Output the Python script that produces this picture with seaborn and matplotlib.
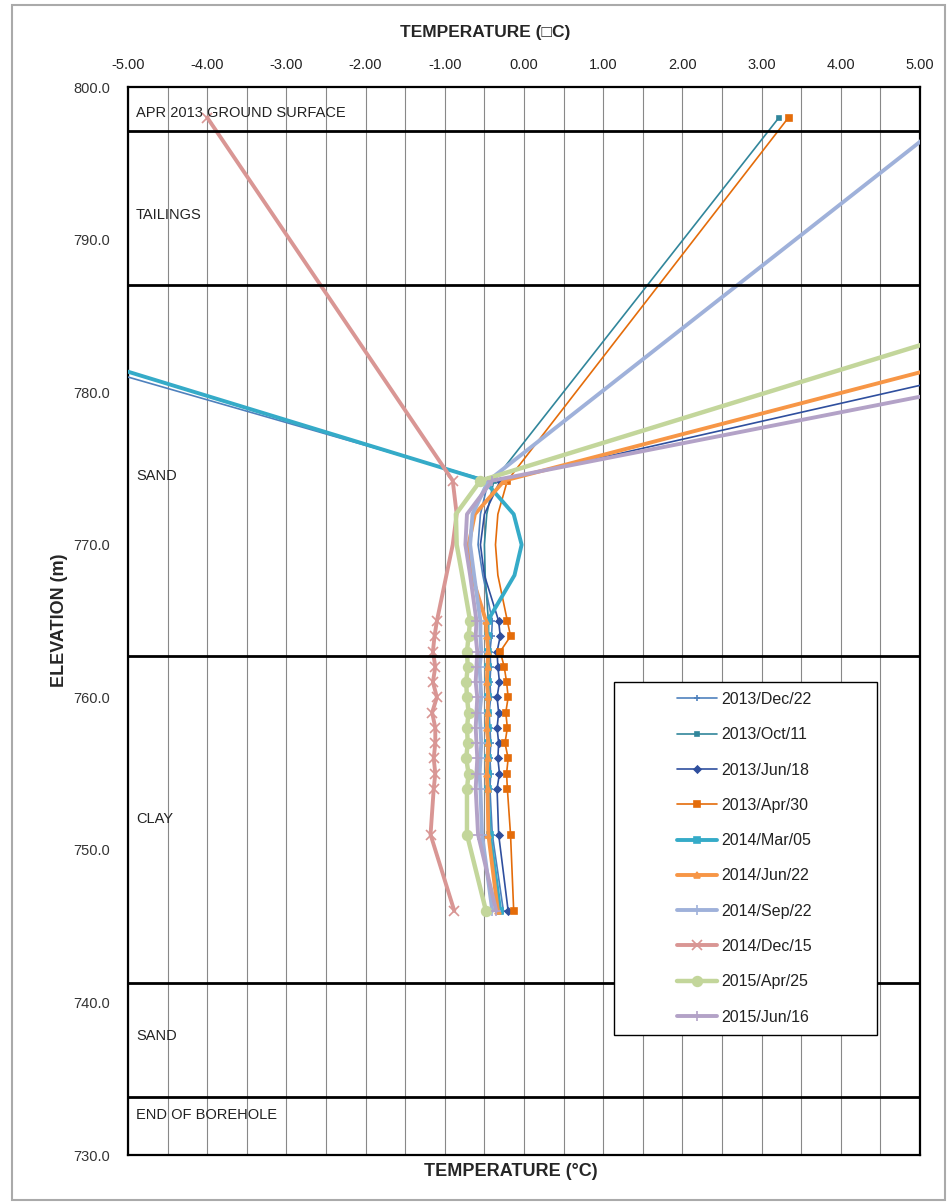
import numpy as np
import pandas as pd
import matplotlib.pyplot as plt
import matplotlib as mpl
import seaborn as sns
from matplotlib.ticker import MultipleLocator, FormatStrFormatter

sns.set_theme(style='white')
mpl.rcParams['font.family'] = ['Liberation Sans', 'DejaVu Sans']
mpl.rcParams['axes.unicode_minus'] = False

ELEV = [798.0, 774.2, 772.0, 770.0, 768.0, 765.0, 764.0, 763.0, 762.0, 761.0,
        760.0, 759.0, 758.0, 757.0, 756.0, 755.0, 754.0, 751.0, 746.0]
MARK_IDX = [0, 1] + list(range(5, len(ELEV)))

dec22_2013 = [-16.4, -0.45, -0.55, -0.58, -0.52, -0.40, -0.41, -0.43, -0.42, -0.43,
              -0.42, -0.44, -0.43, -0.42, -0.43, -0.42, -0.43, -0.40, -0.26]
oct11_2013 = [3.22, -0.38, -0.47, -0.50, -0.49, -0.45, -0.46, -0.46, -0.45, -0.46,
              -0.45, -0.46, -0.45, -0.46, -0.45, -0.46, -0.45, -0.43, -0.30]
jun18_2013 = [19.9, -0.30, -0.50, -0.55, -0.50, -0.32, -0.30, -0.34, -0.33, -0.31,
              -0.34, -0.32, -0.34, -0.32, -0.33, -0.31, -0.34, -0.32, -0.20]
apr30_2013 = [3.34, -0.21, -0.33, -0.36, -0.33, -0.21, -0.17, -0.30, -0.25, -0.22,
              -0.20, -0.23, -0.21, -0.24, -0.20, -0.22, -0.21, -0.17, -0.13]
mar05_2014 = [-15.5, -0.50, -0.13, -0.03, -0.12, -0.46, -0.46, -0.45, -0.46, -0.45,
              -0.46, -0.45, -0.46, -0.45, -0.46, -0.45, -0.46, -0.43, -0.30]
jun22_2014 = [17.35, -0.25, -0.62, -0.70, -0.66, -0.48, -0.47, -0.45, -0.46, -0.47,
              -0.45, -0.46, -0.47, -0.45, -0.46, -0.47, -0.46, -0.45, -0.33]
sep22_2014 = [5.39, -0.45, -0.65, -0.68, -0.63, -0.55, -0.55, -0.54, -0.56, -0.55,
              -0.54, -0.56, -0.55, -0.54, -0.55, -0.56, -0.55, -0.53, -0.40]
dec15_2014 = [-4.0, -0.90, -0.85, -0.90, -0.98, -1.10, -1.13, -1.15, -1.12, -1.15,
              -1.10, -1.16, -1.12, -1.12, -1.14, -1.12, -1.14, -1.18, -0.88]
apr25_2015 = [14.34, -0.55, -0.86, -0.85, -0.78, -0.68, -0.70, -0.72, -0.71, -0.73,
              -0.72, -0.70, -0.72, -0.71, -0.73, -0.70, -0.72, -0.72, -0.48]
jun16_2015 = [22.97, -0.40, -0.72, -0.74, -0.68, -0.60, -0.61, -0.59, -0.60, -0.61,
              -0.59, -0.60, -0.61, -0.60, -0.59, -0.60, -0.61, -0.58, -0.35]

LABELS = ['2013/Dec/22', '2013/Oct/11', '2013/Jun/18', '2013/Apr/30', '2014/Mar/05',
          '2014/Jun/22', '2014/Sep/22', '2014/Dec/15', '2015/Apr/25', '2015/Jun/16']
SERIES = [dec22_2013, oct11_2013, jun18_2013, apr30_2013, mar05_2014,
          jun22_2014, sep22_2014, dec15_2014, apr25_2015, jun16_2015]

# styling: colour, line width, marker, marker size
STYLES = [
    ('#4f81bd', 1.2, '+', 5),
    ('#31869b', 1.2, 's', 3),
    ('#2f4f9e', 1.2, 'D', 3.5),
    ('#e46c0a', 1.2, 's', 5),
    ('#35abc8', 2.8, 's', 5),
    ('#f79646', 2.8, '^', 5),
    ('#9fb1da', 2.8, '+', 7),
    ('#d99694', 2.8, 'x', 7),
    ('#c3d69b', 3.2, 'o', 7),
    ('#b3a2c7', 2.8, '+', 7),
]

LAYER_LINES = [797.1, 787.0, 762.7, 741.3, 733.8]
LAYER_TEXT = ['APR 2013 GROUND SURFACE', 'TAILINGS', 'SAND', 'CLAY', 'SAND', 'END OF BOREHOLE']
LAYER_TEXT_Y = [798.3, 791.6, 774.5, 752.0, 737.8, 732.6]

fig = plt.figure(figsize=(9.47, 12.04), dpi=100)
ax = fig.add_axes([128/947, 1 - 1155/1204, 792/947, 1068/1204])

for i, (temps, lab) in enumerate(zip(SERIES, LABELS)):
    c, lw, mk, ms = STYLES[i]
    df = pd.DataFrame({'temp': temps, 'elev': ELEV})
    sns.lineplot(data=df, x='temp', y='elev', sort=False, estimator=None, ax=ax,
                 color=c, linewidth=lw, marker=mk, markersize=ms, markevery=MARK_IDX,
                 markeredgecolor=c, markerfacecolor=c, markeredgewidth=1.2,
                 label=lab, zorder=3 + i)

for yl in LAYER_LINES:
    ax.axhline(yl, color='black', linewidth=2, zorder=20)

for t, yt in zip(LAYER_TEXT, LAYER_TEXT_Y):
    ax.text(-4.9, yt, t, fontsize=10.5, va='center', ha='left', color='#222222', zorder=25)

ax.set_xlim(-5, 5)
ax.set_ylim(730, 800)
ax.xaxis.tick_top()
ax.xaxis.set_major_locator(MultipleLocator(1))
ax.xaxis.set_minor_locator(MultipleLocator(0.5))
ax.xaxis.set_major_formatter(FormatStrFormatter('%.2f'))
ax.yaxis.set_major_locator(MultipleLocator(10))
ax.yaxis.set_major_formatter(FormatStrFormatter('%.1f'))
ax.tick_params(axis='x', which='both', length=0, pad=11, labelsize=10.5, colors='#222222')
ax.tick_params(axis='y', which='both', length=0, pad=13, labelsize=10.5, colors='#333333')
ax.grid(axis='x', which='both', color='#888888', linewidth=0.8)
ax.grid(axis='y', visible=False)
ax.set_axisbelow(True)
for s in ax.spines.values():
    s.set_color('black')
    s.set_linewidth(1.6)

ax.set_xlabel('')
ax.set_ylabel('')
fig.text(511/947, 1 - 1171/1204, 'TEMPERATURE (°C)', ha='center', va='center',
         fontsize=13, fontweight='bold')
fig.text(60/947, 1 - 620/1204, 'ELEVATION (m)', ha='center', va='center', rotation=90,
         fontsize=13, fontweight='bold')
fig.text(485/947, 1 - 33/1204, 'TEMPERATURE (\u25a1C)', ha='center', va='center',
         fontsize=12.5, fontweight='bold')

# legend: box drawn separately so the entries can sit inset like the original
handles, labels = ax.get_legend_handles_labels()
leg = ax.legend(handles, labels, loc='upper left',
                bbox_to_anchor=(677/947, 1 - 692/1204), bbox_transform=fig.transFigure,
                fontsize=11.5, frameon=False, labelspacing=1.27, handlelength=2.5,
                borderpad=0, borderaxespad=0, handletextpad=0.3)
leg.set_zorder(30)
for t in leg.get_texts():
    t.set_color('#222222')
box = mpl.patches.Rectangle((614/947, 1 - 1035/1204), 263/947, 353/1204,
                            transform=fig.transFigure, facecolor='white',
                            edgecolor='black', linewidth=1.0, zorder=29, clip_on=False)
ax.add_artist(box)

# light outer frame around the whole chart
fig.add_artist(mpl.patches.Rectangle((12/947, 4/1204), 933/947, 1195/1204,
                                     transform=fig.transFigure, fill=False,
                                     edgecolor='#aaaaaa', linewidth=1.5))

fig.savefig('out.png', dpi=100, facecolor='white')
